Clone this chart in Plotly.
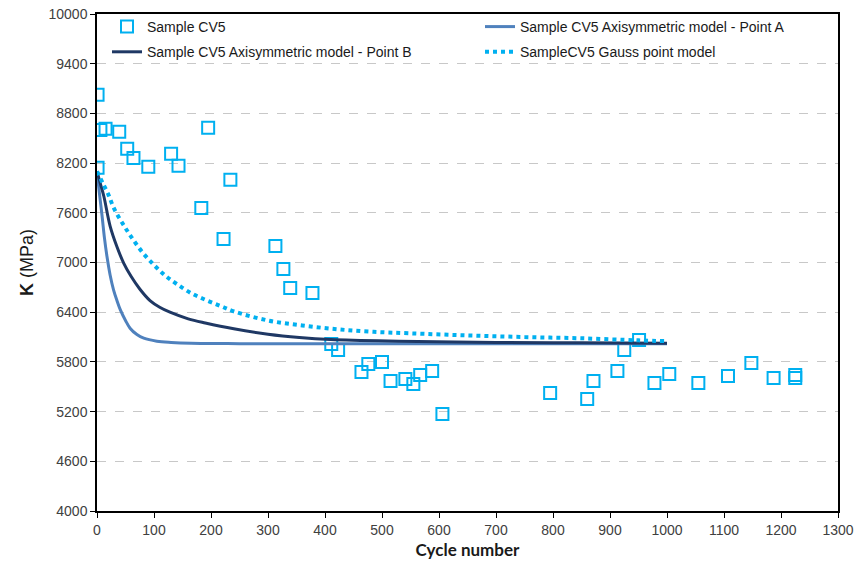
import plotly.graph_objects as go

# ---- measured data (Sample CV5) ----
cv5_cycles = [1, 6, 15, 39, 53, 64, 90, 1, 130, 143, 195, 234, 183, 222, 313, 327, 339, 378,
              411, 423, 464, 476, 500, 515, 541, 555, 567, 588, 606, 795, 860, 871, 913, 925,
              951, 978, 1004, 1055, 1107, 1148, 1187, 1225, 1225]
cv5_K = [9024, 8601, 8614, 8577, 8372, 8263, 8155, 8143, 8312, 8167, 8626, 7998, 7659, 7285,
         7200, 6923, 6693, 6633, 6017, 5945, 5679, 5775, 5800, 5570, 5594, 5534, 5643, 5691,
         5172, 5425, 5353, 5570, 5691, 5945, 6065, 5546, 5655, 5546, 5631, 5788, 5606, 5643, 5606]

# ---- Axisymmetric model - Point A ----
a_cycles = [0, 4, 9, 13, 17.5, 23, 29, 35, 41, 50, 58, 70, 82, 105, 130, 165, 250, 400, 600, 800, 1000]
a_K = [8100, 7850, 7555, 7300, 7072, 6850, 6670, 6540, 6428, 6300, 6207, 6130, 6086, 6050,
       6035, 6025, 6020, 6018, 6018, 6018, 6018]

# ---- Axisymmetric model - Point B ----
b_cycles = [0, 6, 12, 23, 35, 47, 60, 75, 93, 110, 128, 160, 190, 240, 300, 355, 410, 530, 700, 850, 1000]
b_K = [8100, 7950, 7800, 7440, 7190, 6990, 6830, 6680, 6540, 6460, 6400, 6320, 6270, 6200,
       6135, 6095, 6070, 6050, 6035, 6030, 6025]

# ---- Gauss point model ----
g_cycles = [0, 10, 20, 30, 45, 60, 80, 100, 120, 140, 165, 190, 215, 240, 300, 360, 420, 480,
            550, 650, 750, 850, 950, 1000]
g_K = [8100, 7960, 7820, 7650, 7470, 7310, 7120, 6970, 6840, 6740, 6630, 6550, 6480, 6410,
       6300, 6240, 6195, 6165, 6145, 6120, 6100, 6085, 6060, 6050]

y_ticks = [4000, 4600, 5200, 5800, 6400, 7000, 7600, 8200, 8800, 9400, 10000]
y_ticktext = [str(v) for v in y_ticks]
x_ticks = list(range(0, 1301, 100))
x_ticktext = [str(v) for v in x_ticks]

FONT = "Liberation Sans, Arial, sans-serif"

fig = go.Figure()
fig.add_trace(go.Scatter(
    x=cv5_cycles, y=cv5_K, mode="markers", name="Sample CV5",
    marker=dict(symbol="square-open", size=12, color="#00B0F0", line=dict(width=2, color="#00B0F0")),
    legend="legend", legendgroup="g1"))
fig.add_trace(go.Scatter(
    x=a_cycles, y=a_K, mode="lines", name="Sample CV5 Axisymmetric model - Point A",
    line=dict(color="#4F81BD", width=3, shape="spline", smoothing=1.0),
    legend="legend2", legendgroup="g2"))
fig.add_trace(go.Scatter(
    x=b_cycles, y=b_K, mode="lines", name="Sample CV5 Axisymmetric model - Point B",
    line=dict(color="#1F3864", width=3, shape="spline", smoothing=1.0),
    legend="legend", legendgroup="g3"))
fig.add_trace(go.Scatter(
    x=g_cycles, y=g_K, mode="lines", name="SampleCV5 Gauss point model",
    line=dict(color="#00B0F0", width=4, dash="4px,4px", shape="spline", smoothing=1.0),
    legend="legend2", legendgroup="g4"))

W, H = 859, 566
PL, PR, PT, PB = 97, 838, 14, 511
PW, PH = PR - PL, PB - PT

legend_common = dict(
    font=dict(family=FONT, size=14, color="#1a1a1a"),
    bgcolor="rgba(0,0,0,0)", borderwidth=0,
    xanchor="left", yanchor="top",
    tracegroupgap=4, itemwidth=30,
)

fig.update_layout(
    width=W, height=H,
    margin=dict(l=PL, r=W - PR, t=PT, b=H - PB, autoexpand=False),
    paper_bgcolor="white", plot_bgcolor="white",
    font=dict(family=FONT, size=14, color="#404040"),
    showlegend=True,
    legend=dict(x=(107 - PL) / PW, y=1 + 3 / PH, **legend_common),
    legend2=dict(x=(480 - PL) / PW, y=1 + 3 / PH, **legend_common),
    xaxis=dict(
        range=[0, 1300], tickvals=x_ticks, ticktext=x_ticktext, ticks="outside", ticklen=5,
        tickcolor="black", showline=True, linecolor="black", linewidth=1.5, mirror=True,
        showgrid=False, zeroline=False, tickfont=dict(family=FONT, size=14, color="#404040"),
        title=dict(text="<b>Cycle number</b>", font=dict(family="Lato, sans-serif", size=17, color="#1a1a1a"), standoff=8),
    ),
    yaxis=dict(
        range=[4000, 10000], tickvals=y_ticks, ticktext=y_ticktext, ticks="outside", ticklen=5,
        tickcolor="black", showline=True, linecolor="black", linewidth=1.5, mirror=True,
        showgrid=True, gridcolor="#C8C8C8", griddash="dash", gridwidth=1,
        zeroline=False, tickfont=dict(family=FONT, size=14, color="#404040"),
        title=dict(text="<b>K</b> (MPa)", font=dict(family=FONT, size=18, color="#1a1a1a"), standoff=10),
    ),
)

fig.write_html("out.html", config={"displayModeBar": False},
               post_script="document.body.style.margin='0px';")
